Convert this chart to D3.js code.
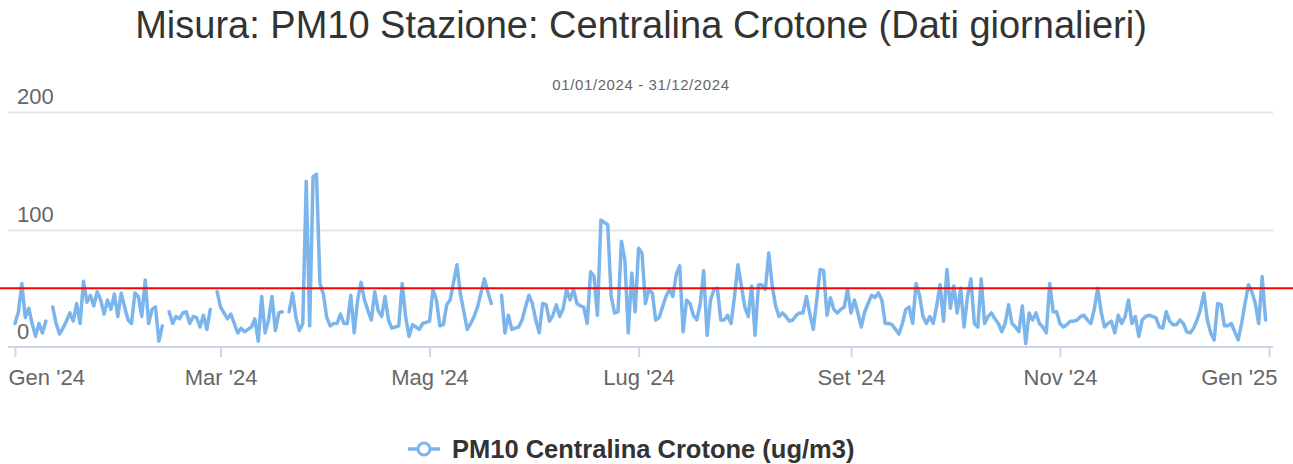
<!DOCTYPE html>
<html>
<head>
<meta charset="utf-8">
<script src="https://cdn.jsdelivr.net/npm/d3@7/dist/d3.min.js"></script>
<style>
  body { margin: 0; background: #fff; }
  svg { display: block; font-family: "Liberation Sans", Arial, Helvetica, sans-serif; }
</style>
</head>
<body>
<div id="chart"></div>
<script>
// PM10 daily values (ug/m3), one array per month of 2024, null = missing day
var gen = [20,30,54,25,33,20,9,20,12,22,null,34,20,11,16,22,29,22,37,20,56,38,44,35,47,40,28,40,32,45,26];
var feb = [46,34,23,20,46,43,26,57,20,32,34,5,18,null,30,20,26,24,29,30,20,26,25,17,27,15,32,null,47];
var mar = [34,29,24,28,20,12,16,13,15,17,24,5,43,12,23,43,14,29,30,null,30,46,25,14,20,141,18,145,147,54,45];
var apr = [25,18,20,20,28,20,20,44,12,40,55,40,31,23,47,31,26,43,23,16,17,18,54,26,9,19,17,15,20,21];
var mag = [22,49,40,18,19,36,40,55,70,45,30,15,20,26,34,46,58,47,37,null,null,44,12,27,15,16,17,23,34,44,37];
var giu = [23,12,37,36,22,27,36,26,33,49,40,49,37,35,34,20,64,60,27,108,106,104,43,29,30,90,74,12,63,30];
var lug = [84,80,37,49,46,23,25,34,43,49,43,62,69,13,40,37,27,23,37,65,10,40,49,50,23,23,27,20,43,70,52];
var ago = [34,26,52,10,53,53,49,80,52,35,26,29,26,22,23,27,29,29,43,28,15,40,66,65,27,42,32,29,32,34,49];
var set = [29,40,29,17,30,37,44,42,46,40,20,20,19,15,11,20,32,34,20,54,44,26,20,26,20,35,53,22,66,33];
var ott = [52,29,50,17,43,58,20,17,58,20,26,29,24,20,13,20,36,20,17,13,35,3,29,23,29,20,17,12,54,30,30];
var nov = [20,17,19,22,22,23,26,27,23,20,32,50,30,17,20,22,12,27,20,26,40,20,26,9,23,26,27,26,25,17];
var dic = [16,30,22,19,19,23,20,13,12,16,23,32,46,23,12,6,37,36,18,18,20,13,6,20,37,53,47,37,20,60,23];

var yTicks = [0, 100, 200];
var limitValue = 50;
var monthNames = ["Gen","Feb","Mar","Apr","Mag","Giu","Lug","Ago","Set","Ott","Nov","Dic"];

var titleText = "Misura: PM10 Stazione: Centralina Crotone (Dati giornalieri)";
var subtitleText = "01/01/2024 - 31/12/2024";
var seriesName = "PM10 Centralina Crotone (ug/m3)";

var W = 1293, H = 464;
var start = new Date(2024, 0, 1);
var end = new Date(2025, 0, 1);

var values = [].concat(gen, feb, mar, apr, mag, giu, lug, ago, set, ott, nov, dic);
var data = values.map(function(v, i) {
  return { date: d3.timeDay.offset(start, i), v: v };
});

var svg = d3.select("#chart").append("svg")
  .attr("width", W)
  .attr("height", H);

var x = d3.scaleTime().domain([start, end]).range([15, 1269]);
var y = d3.scaleLinear().domain([0, 200]).range([347, 112]);

// title + subtitle
svg.append("text")
  .attr("x", 641).attr("y", 38)
  .attr("text-anchor", "middle")
  .attr("font-size", "38px")
  .attr("fill", "#333333")
  .text(titleText);

svg.append("text")
  .attr("x", 641).attr("y", 90)
  .attr("text-anchor", "middle")
  .attr("font-size", "15px")
  .attr("letter-spacing", "0.6px")
  .attr("fill", "#666666")
  .text(subtitleText);

// grid lines
svg.append("g").selectAll("line")
  .data(yTicks.filter(function(d) { return d > 0; }))
  .enter().append("line")
    .attr("x1", 8).attr("x2", 1273)
    .attr("y1", function(d) { return Math.round(y(d)) + 0.5; })
    .attr("y2", function(d) { return Math.round(y(d)) + 0.5; })
    .attr("stroke", "#e6e6e6")
    .attr("stroke-width", 2);

// y labels sit above their grid line, left aligned
svg.append("g").selectAll("text")
  .data(yTicks)
  .enter().append("text")
    .attr("x", 17)
    .attr("y", function(d) { return y(d) - 8; })
    .attr("font-size", "22px")
    .attr("fill", "#666666")
    .text(function(d) { return d; });

// x axis
var tickDates = d3.range(0, 13, 2).map(function(m) { return new Date(2024, m, 1); });
var xAxisCall = d3.axisBottom(x)
  .tickValues(tickDates)
  .tickSize(10)
  .tickFormat(function(d) {
    return monthNames[d.getMonth()] + " '" + String(d.getFullYear()).slice(2);
  });

var xAxis = svg.append("g")
  .attr("transform", "translate(0,347)")
  .call(xAxisCall);

xAxis.select(".domain").remove();
xAxis.insert("line", ":first-child")
  .attr("x1", 8).attr("x2", 1273)
  .attr("stroke", "#ccd6eb")
  .attr("stroke-width", 2);
xAxis.selectAll(".tick line").attr("stroke", "#ccd6eb").attr("stroke-width", 2);
xAxis.selectAll(".tick text")
  .attr("y", 31)
  .attr("dy", "0.32em")
  .attr("font-size", "22px")
  .attr("font-family", "Liberation Sans, Arial, sans-serif")
  .attr("fill", "#666666");

// keep the end labels inside the chart
xAxis.selectAll(".tick text")
  .filter(function(d, i) { return i === 0; })
  .attr("text-anchor", "start")
  .attr("x", 8 - x(tickDates[0]));
xAxis.selectAll(".tick text")
  .filter(function(d, i) { return i === tickDates.length - 1; })
  .attr("text-anchor", "end")
  .attr("x", 1277 - x(tickDates[tickDates.length - 1]));

// series line
var line = d3.line()
  .defined(function(d) { return d.v != null; })
  .x(function(d) { return x(d.date); })
  .y(function(d) { return y(d.v); });

svg.append("path")
  .datum(data)
  .attr("fill", "none")
  .attr("stroke", "#7cb5ec")
  .attr("stroke-width", 3.5)
  .attr("stroke-linejoin", "round")
  .attr("stroke-linecap", "round")
  .attr("d", line);

// limit line
svg.append("line")
  .attr("x1", 0).attr("x2", W)
  .attr("y1", y(limitValue)).attr("y2", y(limitValue))
  .attr("stroke", "#ff0000")
  .attr("stroke-width", 2);

// legend
var legend = svg.append("g").attr("transform", "translate(0,449)");
legend.append("line")
  .attr("x1", 408).attr("x2", 440)
  .attr("stroke", "#7cb5ec")
  .attr("stroke-width", 3.5);
legend.append("circle")
  .attr("cx", 424).attr("r", 6)
  .attr("fill", "#ffffff")
  .attr("stroke", "#7cb5ec")
  .attr("stroke-width", 3);
legend.append("text")
  .attr("x", 452).attr("dy", "0.35em")
  .attr("font-size", "25.5px")
  .attr("font-weight", "bold")
  .attr("fill", "#333333")
  .text(seriesName);
</script>
</body>
</html>
